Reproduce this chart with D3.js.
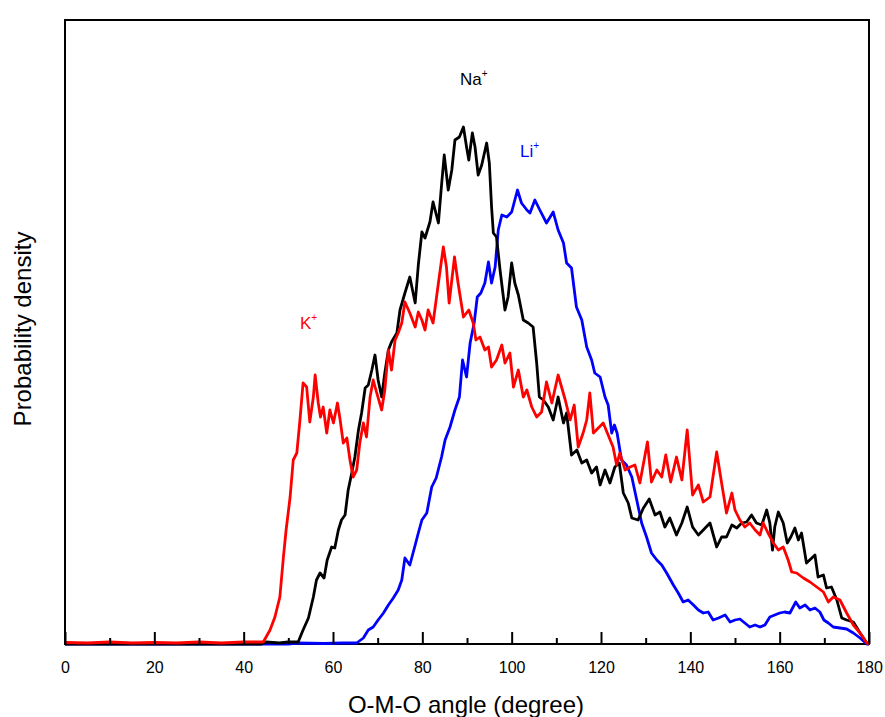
<!DOCTYPE html>
<html>
<head>
<meta charset="utf-8">
<script src="https://cdn.jsdelivr.net/npm/d3@7"></script>
<style>
  html, body { margin: 0; padding: 0; background: #fff; }
  #chart { width: 885px; height: 717px; }
  text { font-family: "Liberation Sans", Arial, sans-serif; }
</style>
</head>
<body>
<div id="chart"></div>
<script>
// O-M-O angle distributions, [angle (deg), probability density (arb. units)]
const kData = [
  [0,0.15],[5,0.1],[10,0.2],[15,0.1],[20,0.15],[25,0.1],[30,0.2],[35,0.1],[40,0.2],[44.4,0.2],
  [45.9,1.4],[47.0,2.7],[48.1,4.7],[48.9,8.7],[49.5,11.4],[50.4,14.7],[51.1,18.4],[51.9,19.1],
  [52.6,22.4],[53.3,26.1],[54.1,25.7],[54.8,22.2],[55.6,24.7],[56.0,26.9],[56.7,24.1],[57.2,22.7],
  [57.8,23.7],[58.6,21.1],[59.3,23.4],[60.1,22.1],[61.0,24.1],[61.6,22.4],[62.3,20.1],[63.1,20.6],
  [63.8,18.4],[64.5,16.7],[65.3,17.4],[66.0,20.1],[66.8,22.1],[67.5,20.7],[68.3,24.7],[69.0,26.4],
  [69.8,25.1],[70.9,23.4],[71.6,25.4],[72.4,29.4],[73.1,27.4],[73.9,30.4],[74.6,31.1],[75.4,32.1],
  [76.1,34.2],[77.2,33.1],[78.4,31.7],[79.1,33.2],[79.9,32.4],[80.6,31.4],[81.3,33.4],[82.4,32.1],
  [83.6,36.1],[84.7,39.7],[85.4,37.7],[86.0,34.1],[87.2,38.7],[88.0,36.1],[89.2,32.7],[90.4,33.4],
  [91.4,32.1],[92.0,30.4],[92.9,30.7],[94.0,29.4],[94.8,29.7],[95.5,27.7],[96.6,28.4],[97.8,29.9],
  [98.5,28.1],[99.6,29.1],[100.4,25.7],[101.5,27.4],[102.6,24.7],[103.4,25.4],[104.5,23.7],
  [105.6,22.7],[106.7,23.2],[107.8,26.2],[109.0,24.1],[110.4,26.9],[112.0,24.4],[113.1,22.4],
  [114.0,23.9],[114.9,19.7],[116.0,21.1],[116.8,22.4],[117.5,25.1],[118.3,21.1],[119.4,21.6],
  [120.5,22.1],[121.6,20.9],[122.7,19.7],[123.5,17.9],[124.2,19.1],[125.4,17.4],[126.5,17.7],
  [127.6,17.9],[128.7,16.1],[130.4,20.2],[131.3,16.2],[132.5,17.4],[133.6,16.7],[134.5,18.9],
  [135.6,16.2],[136.9,18.7],[138.1,16.4],[139.3,21.4],[140.5,14.9],[141.8,15.9],[142.9,14.2],
  [144.4,14.7],[145.9,19.2],[147.0,16.1],[148.1,13.1],[149.3,15.1],[150.0,13.4],[151.1,12.4],
  [152.2,11.7],[153.3,12.1],[154.5,11.4],[155.6,10.9],[156.3,12.1],[157.4,11.1],[158.6,10.1],
  [159.7,9.4],[160.8,9.7],[161.9,8.4],[162.7,7.2],[163.8,7.1],[165.3,6.6],[166.8,6.2],[168.3,5.7],
  [169.8,5.2],[170.9,4.2],[172.0,4.7],[173.5,4.4],[175.0,3.1],[176.5,1.9],[178.0,1.1],[179.5,0.1],[180,0]
];
const naData = [
  [0,0],[44,0],[45,0.2],[48,0.1],[50,0.2],[52.2,0.2],[53.3,1.4],[54.5,2.6],[55.6,4.7],[56.3,6.4],
  [57.1,7.1],[58.0,6.6],[58.7,8.4],[59.7,9.7],[60.4,9.6],[61.2,11.4],[61.9,12.4],[62.7,12.9],
  [63.4,15.4],[64.2,17.1],[64.9,18.7],[65.7,21.4],[66.4,23.1],[67.2,25.6],[67.9,25.9],[68.7,27.4],
  [69.4,28.9],[70.1,26.4],[70.9,24.7],[71.6,27.1],[72.4,29.4],[73.1,30.2],[74.3,31.1],[75.0,33.4],
  [76.1,35.1],[77.2,36.7],[78.4,34.1],[79.1,37.9],[79.9,41.2],[80.6,40.6],[81.7,42.2],[82.4,44.2],
  [83.6,42.1],[84.3,45.9],[84.9,48.9],[85.8,45.4],[86.6,47.4],[87.3,50.4],[88.3,50.7],[89.2,51.7],
  [89.9,49.7],[90.4,48.4],[91.2,51.1],[91.8,49.7],[92.5,46.9],[93.3,47.9],[94.4,50.1],[95.0,48.1],
  [95.5,43.7],[95.9,41.1],[96.6,40.7],[97.4,37.4],[98.5,33.4],[99.2,34.7],[100.0,38.1],[100.7,36.1],
  [101.5,34.9],[102.6,32.4],[103.7,32.1],[104.8,31.7],[105.6,28.1],[106.2,24.7],[107.1,24.4],
  [108.2,23.7],[109.3,22.4],[110.4,24.7],[111.6,22.1],[112.3,23.1],[113.4,18.9],[114.6,19.4],
  [115.7,18.1],[116.8,18.4],[117.9,17.1],[119.0,17.7],[119.8,15.9],[120.9,17.4],[122.0,16.1],
  [123.1,17.7],[124.1,18.1],[125.0,15.1],[126.1,14.1],[126.9,12.6],[128.3,12.4],[129.5,13.6],
  [130.8,14.5],[132.1,12.9],[133.2,13.2],[134.3,11.7],[135.4,12.6],[136.9,10.9],[138.1,12.1],
  [139.3,13.7],[140.5,11.7],[141.8,10.9],[142.9,11.4],[144.4,12.1],[145.9,9.7],[147.0,10.7],
  [148.1,10.7],[149.3,11.9],[150.4,11.6],[151.5,12.1],[152.6,12.2],[153.7,12.9],[154.8,12.1],
  [156.0,11.9],[157.1,13.4],[157.8,12.1],[158.4,9.4],[158.9,11.7],[159.7,13.2],[160.8,12.1],
  [161.7,10.1],[162.5,10.7],[163.4,11.6],[164.2,10.4],[164.9,11.1],[166.0,8.1],[167.2,8.6],
  [167.9,8.9],[168.6,6.7],[169.8,6.9],[170.5,5.6],[171.6,5.7],[172.8,4.4],[173.9,2.6],[175.0,2.4],
  [176.5,2.2],[178.0,1.1],[179.5,0.1],[180,0]
];
const liData = [
  [0,0],[50,0],[52,0.1],[58,0.05],[62,0.1],[65.3,0.1],[66.8,0.6],[67.9,1.4],[69.0,1.7],[70.1,2.4],
  [71.3,3.1],[72.4,3.9],[73.5,4.6],[74.6,5.4],[75.4,6.4],[76.1,8.6],[77.2,7.9],[78.4,9.9],[79.1,11.1],
  [79.9,12.4],[81.0,13.1],[82.1,15.7],[83.1,16.6],[84.3,18.7],[85.1,20.4],[86.2,21.7],[87.3,23.4],
  [88.3,24.7],[89.0,28.4],[89.9,26.7],[90.7,30.1],[91.6,32.1],[92.3,34.7],[93.1,35.1],[94.0,36.1],
  [94.8,38.2],[95.5,36.1],[96.3,37.7],[97.0,41.4],[97.8,42.9],[98.9,42.7],[100.0,43.2],[101.3,45.4],
  [102.2,44.1],[103.4,43.4],[104.1,43.1],[105.2,44.4],[106.3,43.4],[107.8,42.1],[109.3,43.2],
  [110.4,41.4],[111.6,40.1],[112.3,38.1],[113.4,37.6],[114.5,33.7],[115.7,32.4],[116.8,29.7],
  [117.9,28.4],[118.6,27.1],[119.8,26.7],[120.9,24.7],[121.6,23.9],[122.4,21.1],[123.0,21.9],
  [123.6,21.1],[124.6,18.4],[125.7,17.9],[126.9,16.7],[128.0,14.4],[129.1,12.1],[130.2,10.7],
  [131.3,9.1],[132.5,8.4],[133.6,7.9],[134.7,7.1],[136.2,5.9],[137.3,5.1],[138.4,4.2],[139.5,4.4],
  [140.7,3.9],[141.8,3.4],[142.9,3.1],[144.0,3.2],[145.1,2.4],[146.3,2.6],[147.8,2.9],[148.9,2.2],
  [150.0,2.4],[151.1,2.5],[152.2,2.1],[153.3,1.7],[154.5,1.9],[155.6,1.7],[156.7,1.9],[157.8,2.7],
  [158.9,2.9],[160.0,3.1],[161.1,3.2],[162.3,3.1],[163.6,4.2],[164.5,3.6],[165.7,3.9],[166.8,3.4],
  [167.9,3.6],[169.0,3.2],[169.9,2.4],[170.9,2.1],[172.0,1.7],[173.5,1.6],[175.0,1.5],[176.5,1.1],
  [178.0,0.6],[179.5,0],[180,0]
];
const majorTicks = [0, 20, 40, 60, 80, 100, 120, 140, 160, 180];
const minorTicks = [10, 30, 50, 70, 90, 110, 130, 150, 170];
const xTitle = "O-M-O angle (degree)";
const yTitle = "Probability density";

const W = 885, H = 717;
const m = { t: 20, r: 16, b: 73, l: 65 };
const svg = d3.select("#chart").append("svg").attr("width", W).attr("height", H);

const x = d3.scaleLinear().domain([0, 180]).range([m.l, W - m.r]);
const y = d3.scaleLinear().domain([0, 62.4]).range([H - m.b, m.t]);

// frame
svg.append("rect")
  .attr("x", x(0)).attr("y", y(62.4))
  .attr("width", x(180) - x(0)).attr("height", y(0) - y(62.4))
  .attr("fill", "none").attr("stroke", "#000").attr("stroke-width", 2);

// curves (blue first, red on top)
const line = d3.line().x(d => x(d[0])).y(d => y(d[1]));
const series = [
  { data: liData, color: "#0000ff" },
  { data: naData, color: "#000000" },
  { data: kData, color: "#ff0000" }
];
svg.append("g").selectAll("path").data(series).join("path")
  .attr("d", d => line(d.data))
  .attr("fill", "none").attr("stroke", d => d.color)
  .attr("stroke-width", 2.8).attr("stroke-linejoin", "round");

// x axis, ticks pointing inward
const gx = svg.append("g").attr("transform", `translate(0,${y(0)})`)
  .call(d3.axisBottom(x).tickValues(majorTicks).tickSize(-12).tickPadding(17.5).tickFormat(d3.format("d")));
gx.select(".domain").remove();
gx.selectAll("line").attr("stroke-width", 2);
gx.selectAll("text").attr("font-size", 16).attr("fill", "#000")
  .attr("font-family", "'Liberation Sans', Arial, sans-serif");
const gm = svg.append("g").attr("transform", `translate(0,${y(0)})`)
  .call(d3.axisBottom(x).tickValues(minorTicks).tickSize(-6).tickFormat(""));
gm.select(".domain").remove();
gm.selectAll("line").attr("stroke-width", 2);

// axis titles
svg.append("text").attr("x", 466).attr("y", 713).attr("text-anchor", "middle")
  .attr("font-size", 24).text(xTitle);
svg.append("text").attr("transform", "translate(31,329) rotate(-90)")
  .attr("text-anchor", "middle").attr("font-size", 24).text(yTitle);

// ion labels
const ions = [
  { name: "Na", px: 460, py: 85, color: "#000000" },
  { name: "Li", px: 520, py: 157, color: "#0000ff" },
  { name: "K", px: 300, py: 329, color: "#ff0000" }
];
const lab = svg.append("g").selectAll("text").data(ions).join("text")
  .attr("x", d => d.px).attr("y", d => d.py)
  .attr("font-size", 17).attr("fill", d => d.color);
lab.append("tspan").text(d => d.name);
lab.append("tspan").attr("font-size", 10).attr("dy", -8).text("+");
</script>
</body>
</html>
